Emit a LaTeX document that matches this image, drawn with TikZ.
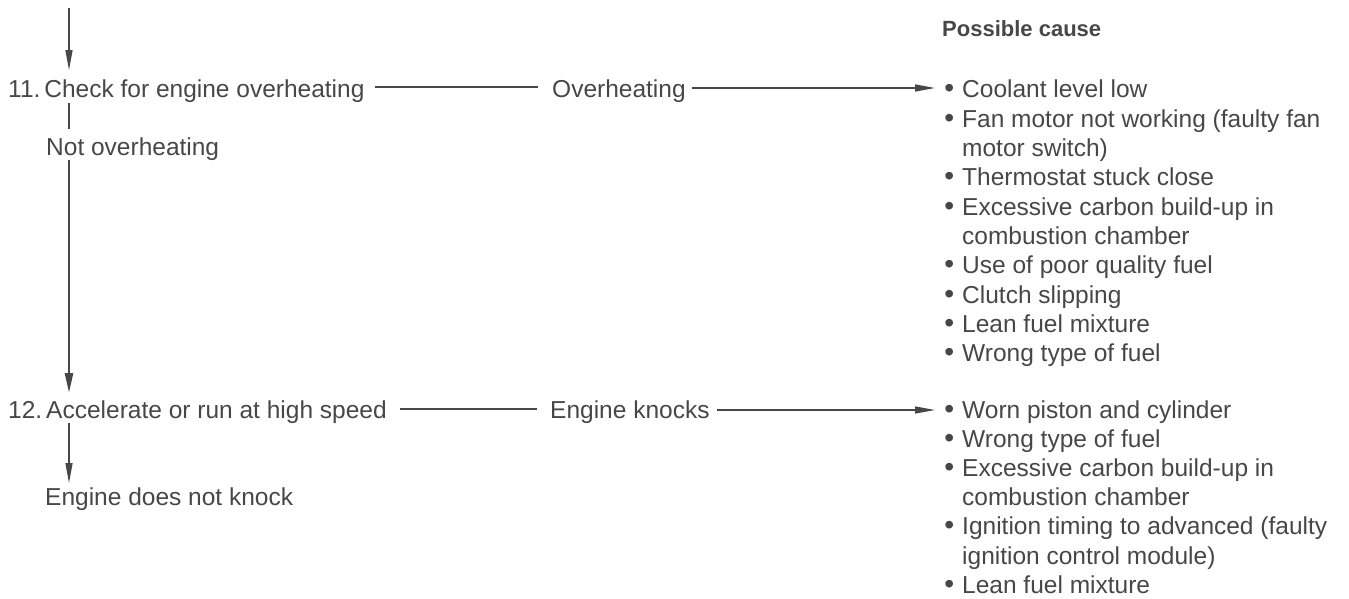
\documentclass[tikz,border=0pt]{standalone}
\usepackage{fontspec}
\setmainfont{Liberation Sans}
\usetikzlibrary{arrows.meta,calc}
\definecolor{ink}{HTML}{474747}
\frenchspacing
\begin{document}
\begin{tikzpicture}[x=1pt,y=-1pt,
  txt/.style={anchor=base west, inner sep=0pt, text=ink, font=\fontsize{24.5}{29}\selectfont},
  head/.style={txt, font=\fontsize{22}{26}\selectfont\bfseries},
  item/.style={txt, execute at begin node={\llap{\scalebox{1.15}{\textbullet}\hspace{8pt}}}},
  cont/.style={txt},
  conn/.style={draw=ink, line width=1.3pt},
  thick conn/.style={draw=ink, line width=2.6pt},
  arr/.style={conn, -{Triangle[length=20pt,width=7pt]}},
]
\useasboundingbox (0,0) rectangle (1349,599);

% left column
\coordinate (top) at (69,8);
\node[txt] (n11) at (8,98) {11.\hspace{4pt}Check for engine overheating};
\node[txt] (nov) at (46,155) {Not overheating};
\node[txt] (n12) at (8,418) {12.\hspace{4pt}Accelerate or run at high speed};
\node[txt] (nok) at (45,505) {Engine does not knock};

% middle labels
\node[txt] (ovh) at (552,98) {Overheating};
\node[txt] (knk) at (550,418) {Engine knocks};

% heading
\node[head] (pc) at (942,37) {Possible cause};

% list 1
\node[item] (a1) at (962,98) {Coolant level low};
\node[item] (a2) at (962,127.3) {Fan motor not working (faulty fan};
\node[cont] (a2b) at (962,156.6) {motor switch)};
\node[item] (a3) at (962,185.9) {Thermostat stuck close};
\node[item] (a4) at (962,215.2) {Excessive carbon build-up in};
\node[cont] (a4b) at (962,244.5) {combustion chamber};
\node[item] (a5) at (962,273.8) {Use of poor quality fuel};
\node[item] (a6) at (962,303.1) {Clutch slipping};
\node[item] (a7) at (962,332.4) {Lean fuel mixture};
\node[item] (a8) at (962,361.7) {Wrong type of fuel};

% list 2
\node[item] (b1) at (962,418) {Worn piston and cylinder};
\node[item] (b2) at (962,447.2) {Wrong type of fuel};
\node[item] (b3) at (962,476.4) {Excessive carbon build-up in};
\node[cont] (b3b) at (962,505.6) {combustion chamber};
\node[item] (b4) at (962,534.8) {Ignition timing to advanced (faulty};
\node[cont] (b4b) at (962,564) {ignition control module)};
\node[item] (b5) at (962,593.2) {Lean fuel mixture};

% vertical flow
\draw[arr, shorten >=10pt] (top) -- (n11.north -| top);
\draw[conn, shorten >=8pt] (n11.south -| top) -- (nov.north -| top);
\draw[thick conn, -{Triangle[length=20pt,width=8pt]}, shorten >=7pt] (nov.south -| top) -- (n12.north -| top);
\draw[arr, shorten >=4pt] (n12.south -| top) -- (nok.north -| top);

% horizontal flow
\draw[conn] ($(n11.base east)+(10,-11)$) -- ($(ovh.base west)+(-14,-11)$);
\draw[arr] ($(ovh.base east)+(6,-10)$) -- ($(a1.base west)+(-27,-10)$);
\draw[conn] ($(n12.base east)+(13,-9)$) -- ($(knk.base west)+(-13,-9)$);
\draw[arr] ($(knk.base east)+(7,-8)$) -- ($(b1.base west)+(-27,-8)$);
\end{tikzpicture}
\end{document}
